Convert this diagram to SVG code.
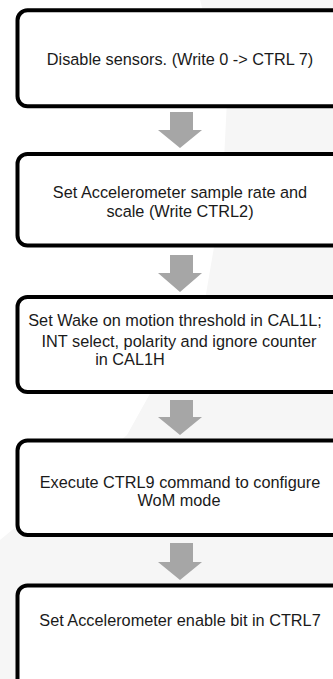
<svg xmlns="http://www.w3.org/2000/svg" width="333" height="679" viewBox="0 0 333 679">
<style>
.box{fill:#ffffff;stroke:#000000;stroke-width:4}
.arrow{fill:#a6a6a6;stroke:none}
text{font-family:"Liberation Sans",Arial,sans-serif;font-size:16.3px;fill:#1a1a1a;text-anchor:middle}
</style>
<rect width="333" height="679" fill="#ffffff"/>
<path d="M200,0 L333,0 L333,679 L0,679 L0,540 L127,435 L152,390 L205,300 L222,200 L227,100 Z" fill="#f6f6f6"/>
<g id="connectors">
<path class="arrow" d="M170,112 H193 V130 H202 L180,148 L158,130 H170 Z"/>
<path class="arrow" d="M170,255 H193 V273 H202 L180,292 L158,273 H170 Z"/>
<path class="arrow" d="M170,400 H193 V417 H202 L180,435 L158,417 H170 Z"/>
<path class="arrow" d="M170,543 H193 V562 H202 L180,580 L158,562 H170 Z"/>
</g>
<g id="node1">
<rect class="box" x="17.5" y="10.3" width="340" height="96" rx="10"/>
<text x="180" y="65">Disable sensors. (Write 0 -&gt; CTRL 7)</text>
</g>
<g id="node2">
<rect class="box" x="17.5" y="154" width="340" height="91.5" rx="10"/>
<text x="180" y="198">Set Accelerometer sample rate and</text>
<text x="180" y="217">scale (Write CTRL2)</text>
</g>
<g id="node3">
<rect class="box" x="17.5" y="297" width="340" height="95" rx="10"/>
<text x="175" y="326">Set Wake on motion threshold in CAL1L;</text>
<text x="179" y="347">INT select, polarity and ignore counter</text>
<text x="130" y="365">in CAL1H</text>
</g>
<g id="node4">
<rect class="box" x="17.5" y="440.5" width="340" height="94.5" rx="10"/>
<text x="180" y="488">Execute CTRL9 command to configure</text>
<text x="179" y="506">WoM mode</text>
</g>
<g id="node5">
<rect class="box" x="17.5" y="585.5" width="340" height="120" rx="10"/>
<text x="180" y="626">Set Accelerometer enable bit in CTRL7</text>
</g>
</svg>
